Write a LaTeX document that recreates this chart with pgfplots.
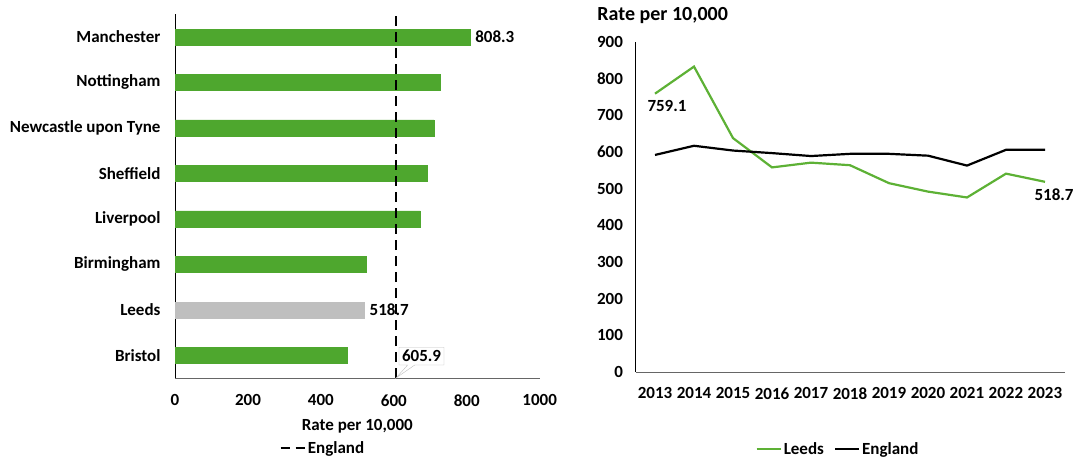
\documentclass[border=0pt]{standalone}
\usepackage{pgfplots}
\pgfplotsset{compat=1.18}
\usepackage{fontspec}
\setmainfont{Carlito}
\usetikzlibrary{shapes.callouts}
\definecolor{bargreen}{HTML}{4EA72E}
\definecolor{linegreen}{HTML}{5DB135}
\definecolor{bargrey}{HTML}{BFBFBF}
\newcommand{\cf}{\fontsize{17}{20}\selectfont\bfseries}
\begin{document}
\begin{tikzpicture}[x=1pt,y=1pt,font=\cf]
\useasboundingbox (0,0) rectangle (1078,458);
% ---------- left: bar chart ----------
\begin{axis}[
  at={(175pt,80pt)}, anchor=south west, scale only axis,
  width=364.7pt, height=364pt,
  xbar, bar width=16pt, bar shift=0pt,
  xmin=0, xmax=1000, ymin=-0.5, ymax=7.5,
  ytick={0,...,7},
  yticklabels={Bristol,Leeds,Birmingham,Liverpool,Sheffield,Newcastle upon Tyne,Nottingham,Manchester},
  xtick={0,200,...,1000},
  axis x line*=bottom, axis y line*=left,
  x axis line style={draw=gray!80!black, line width=1pt},
  y axis line style={draw=black, line width=1pt},
  major tick length=0pt,
  clip=false,
  /pgf/number format/assume math mode=true,
  /pgf/number format/1000 sep={},
  tick label style={font=\cf},
  yticklabel style={xshift=-11pt},
  xticklabel style={yshift=-13pt},
  xlabel={Rate per 10,000},
  xlabel style={font=\cf, yshift=-6pt},
  legend style={draw=none, at={(0.405,-0.192)}, anchor=center, font=\cf},
  legend cell align=left,
]
\addplot[fill=bargreen, draw=bargreen, forget plot] coordinates {(472,0) (524,2) (672,3) (691,4) (710,5) (727,6)};
\addplot[fill=bargrey, draw=bargrey, forget plot, nodes near coords, nodes near coords align={horizontal},
  every node near coord/.append style={font=\cf, black, xshift=2pt}] coordinates {(518.7,1)};
\addplot[fill=bargreen, draw=bargreen, forget plot, nodes near coords, nodes near coords align={horizontal},
  every node near coord/.append style={font=\cf, black, xshift=2pt}] coordinates {(808.3,7)};
\addplot[sharp plot, black, line width=2.6pt, dash pattern=on 10pt off 6pt,
  legend image code/.code={\draw[black, line width=2.6pt, dash pattern=on 9pt off 6pt] (0pt,0pt) -- (24pt,0pt);}]
  coordinates {(605.9,-0.5) (605.9,7.5)};
\addlegendentry{England}
\node[rectangle callout, draw=gray!50, fill=white, inner sep=3pt,
  callout absolute pointer={(axis cs:605.9,-0.5)}] at (axis cs:676,-0.02) {605.9};
\end{axis}
% ---------- right: line chart ----------
\begin{axis}[
  at={(635.5pt,86pt)}, anchor=south west, scale only axis,
  width=429pt, height=330pt,
  xmin=2012.5, xmax=2023.5, ymin=0, ymax=900,
  xtick={2013,...,2023}, ytick={0,100,...,900},
  axis x line*=bottom, axis y line*=left,
  x axis line style={draw=gray!80!black, line width=1pt},
  y axis line style={draw=black, line width=1pt},
  major tick length=0pt,
  clip=false,
  /pgf/number format/assume math mode=true,
  /pgf/number format/1000 sep={},
  tick label style={font=\cf},
  yticklabel style={xshift=-9pt},
  xticklabel style={yshift=-12pt},
  title={Rate per 10,000},
  title style={at={(-0.097,1.079)}, anchor=west, yshift=-6pt, font=\fontsize{20}{23}\selectfont\bfseries},
  legend style={draw=none, at={(0.472,-0.233)}, anchor=center, font=\cf,
    /tikz/every even column/.append style={column sep=8pt}},
  legend columns=2,
  legend image code/.code={\draw[#1] (0pt,0pt) -- (24pt,0pt);},
]
\addplot[linegreen, line width=2.2pt] coordinates {
(2013,759.1) (2014,833) (2015,638) (2016,558) (2017,571) (2018,564) (2019,515) (2020,492) (2021,476) (2022,541) (2023,518.7)};
\addlegendentry{Leeds}
\addplot[black, line width=2.2pt] coordinates {
(2013,592) (2014,617) (2015,604) (2016,597) (2017,589) (2018,595) (2019,595) (2020,590) (2021,563) (2022,606) (2023,605.9)};
\addlegendentry{England}
\node[anchor=north, xshift=12pt, yshift=-3pt] at (axis cs:2013,759.1) {759.1};
\node[anchor=north, xshift=9pt, yshift=-3pt] at (axis cs:2023,518.7) {518.7};
\end{axis}
\end{tikzpicture}
\end{document}
